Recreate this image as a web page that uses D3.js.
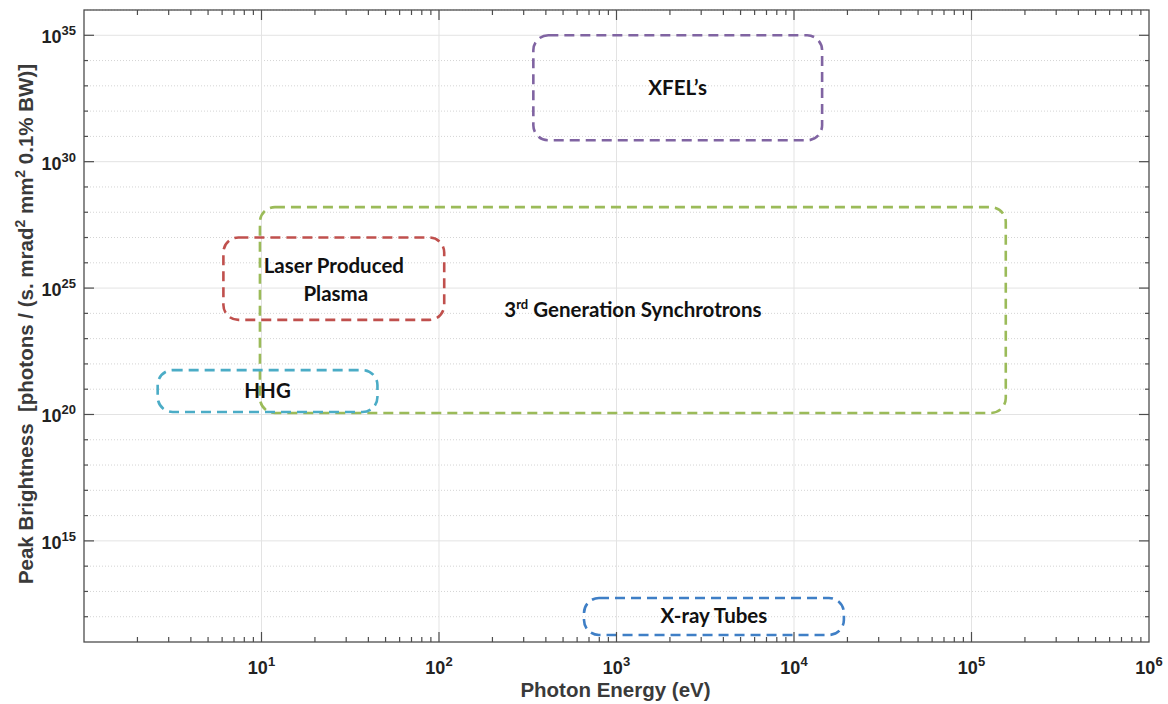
<!DOCTYPE html>
<html>
<head>
<meta charset="utf-8">
<script src="https://cdn.jsdelivr.net/npm/d3@7"></script>
<style>
  body { margin: 0; background: #fff; }
  svg { display: block; }
</style>
</head>
<body>
<div id="chart"></div>
<script>
// source regions: photon energy range (eV) and peak brightness range
const sources = ["XFEL’s", "3rd Generation Synchrotrons", "Laser Produced Plasma", "HHG", "X-ray Tubes"];
const energyMin = [340, 9.8, 6.1, 2.6, 656];
const energyMax = [14400, 156000, 107, 45, 19100];
const brightMin = [7e30, 1.15e20, 5.5e23, 1.25e20, 1.9e11];
const brightMax = [1e35, 1.6e28, 1e27, 5.7e21, 5.5e12];
const colors = ["#8064a2", "#9bbb59", "#c0504d", "#4bacc6", "#3f7fc6"];

const xTickVals = [1e1, 1e2, 1e3, 1e4, 1e5, 1e6];
const yTickVals = [1e15, 1e20, 1e25, 1e30, 1e35];

const width = 1168;
const height = 704;
const marginTop = 10;
const marginRight = 19;
const marginBottom = 62;
const marginLeft = 84;

const x = d3.scaleLog()
  .domain([1, 1e6])
  .range([marginLeft, width - marginRight]);

const y = d3.scaleLog()
  .domain([1e11, 1e36])
  .range([height - marginBottom, marginTop]);

const svg = d3.select("#chart").append("svg")
  .attr("width", width)
  .attr("height", height);

const x0 = marginLeft, x1 = width - marginRight;
const y0 = height - marginBottom, y1 = marginTop;

// decades
const xDecades = d3.range(0, 7).map(e => Math.pow(10, e));
const yDecades = d3.range(11, 37).map(e => Math.pow(10, e));
const xMinor = [];
xDecades.slice(0, -1).forEach(d => { for (let k = 2; k < 10; k++) xMinor.push(d * k); });

const grid = svg.append("g");
// minor horizontal grid (dotted) at every decade
grid.selectAll(".ymin")
  .data(yDecades.filter(d => !yTickVals.includes(d) && d > 1e11))
  .join("line")
    .attr("x1", x0).attr("x2", x1)
    .attr("y1", d => y(d)).attr("y2", d => y(d))
    .attr("stroke", "#d4d4d4")
    .attr("stroke-width", 1)
    .attr("stroke-dasharray", "1,2");
// major grid
grid.selectAll(".ymaj")
  .data(yTickVals)
  .join("line")
    .attr("x1", x0).attr("x2", x1)
    .attr("y1", d => y(d)).attr("y2", d => y(d))
    .attr("stroke", "#e3e3e3");
grid.selectAll(".xmaj")
  .data(xDecades.slice(1, -1))
  .join("line")
    .attr("y1", y0).attr("y2", y1)
    .attr("x1", d => x(d)).attr("x2", d => x(d))
    .attr("stroke", "#e3e3e3");

// source boxes
const idx = d3.range(sources.length);
svg.append("g")
  .selectAll("rect")
  .data(idx)
  .join("rect")
    .attr("x", i => x(energyMin[i]))
    .attr("y", i => y(brightMax[i]))
    .attr("width", i => x(energyMax[i]) - x(energyMin[i]))
    .attr("height", i => y(brightMin[i]) - y(brightMax[i]))
    .attr("rx", 15)
    .attr("fill", "none")
    .attr("stroke", i => colors[i])
    .attr("stroke-width", 2.6)
    .attr("stroke-dasharray", "10,6");

// labels at box centres (in log space)
const mid = (a, b) => Math.sqrt(a * b);
const lab = svg.append("g")
  .style("font-family", "Lato, 'Open Sans', sans-serif")
  .style("font-weight", "700")
  .style("font-size", "20.5px")
  .attr("fill", "#111")
  .attr("text-anchor", "middle");

idx.forEach(i => {
  const cx = x(mid(energyMin[i], energyMax[i]));
  const cy = y(mid(brightMin[i], brightMax[i]));
  const t = lab.append("text").attr("x", cx).attr("y", cy + 7);
  if (sources[i] === "Laser Produced Plasma") {
    t.attr("y", cy - 6).text("Laser Produced");
    lab.append("text").attr("x", cx + 2).attr("y", cy + 22).text("Plasma");
  } else if (sources[i].startsWith("3rd")) {
    t.append("tspan").text("3");
    t.append("tspan").style("font-size", "13px").attr("dy", -8).text("rd");
    t.append("tspan").attr("dy", 8).text(" Generation Synchrotrons");
  } else {
    t.text(sources[i]);
  }
});

// axes frame
const axisColor = "#4d4d4d";
svg.append("rect")
  .attr("x", x0).attr("y", y1)
  .attr("width", x1 - x0).attr("height", y0 - y1)
  .attr("fill", "none")
  .attr("stroke", axisColor)
  .attr("stroke-width", 1.3);

const ticks = svg.append("g").attr("stroke", axisColor).attr("stroke-width", 1.2);
// x ticks top and bottom
ticks.selectAll(".xt")
  .data(xDecades.slice(1, -1).map(v => [v, 10]).concat(xMinor.map(v => [v, 5])))
  .join(enter => {
    const g = enter.append("g");
    g.append("line").attr("x1", d => x(d[0])).attr("x2", d => x(d[0]))
      .attr("y1", y0).attr("y2", d => y0 - d[1]);
    g.append("line").attr("x1", d => x(d[0])).attr("x2", d => x(d[0]))
      .attr("y1", y1).attr("y2", d => y1 + d[1]);
    return g;
  });
// y ticks left and right
ticks.selectAll(".yt")
  .data(yDecades.slice(1, -1).map(v => [v, yTickVals.includes(v) ? 10 : 4]))
  .join(enter => {
    const g = enter.append("g");
    g.append("line").attr("y1", d => y(d[0])).attr("y2", d => y(d[0]))
      .attr("x1", x0).attr("x2", d => x0 + d[1]);
    g.append("line").attr("y1", d => y(d[0])).attr("y2", d => y(d[0]))
      .attr("x1", x1).attr("x2", d => x1 - d[1]);
    return g;
  });

// tick labels
const tl = svg.append("g")
  .style("font-family", "'Liberation Sans', Arial, sans-serif")
  .style("font-weight", "700")
  .attr("fill", "#222");

xTickVals.forEach(v => {
  const e = Math.round(Math.log10(v));
  const t = tl.append("text")
    .attr("x", x(v)).attr("y", y0 + 32)
    .attr("text-anchor", "middle")
    .style("font-size", "18px");
  t.append("tspan").text("10");
  t.append("tspan").attr("dy", -8).style("font-size", "13px").text(e);
});

yTickVals.forEach(v => {
  const e = Math.round(Math.log10(v));
  const t = tl.append("text")
    .attr("x", x0 - 8).attr("y", y(v) + 8)
    .attr("text-anchor", "end")
    .style("font-size", "18px");
  t.append("tspan").text("10");
  t.append("tspan").attr("dy", -8).style("font-size", "13px").text(e);
});

// axis titles
svg.append("text")
  .attr("x", (x0 + x1) / 2 - 1).attr("y", height - 7)
  .attr("text-anchor", "middle")
  .style("font-family", "'Liberation Sans', Arial, sans-serif")
  .style("font-weight", "700")
  .style("font-size", "20.5px")
  .attr("fill", "#3a3a3a")
  .text("Photon Energy (eV)");

const yt = svg.append("text")
  .attr("transform", `translate(33,324) rotate(-90)`)
  .attr("text-anchor", "middle")
  .style("font-family", "'Liberation Sans', Arial, sans-serif")
  .style("font-weight", "700")
  .style("font-size", "20.5px")
  .attr("fill", "#3a3a3a");
yt.append("tspan").text("Peak Brightness\u00A0 [photons / (s. mrad");
yt.append("tspan").attr("dy", -8).style("font-size", "14px").text("2");
yt.append("tspan").attr("dy", 8).text(" mm");
yt.append("tspan").attr("dy", -8).style("font-size", "14px").text("2");
yt.append("tspan").attr("dy", 8).text(" 0.1% BW)]");
</script>
</body>
</html>
